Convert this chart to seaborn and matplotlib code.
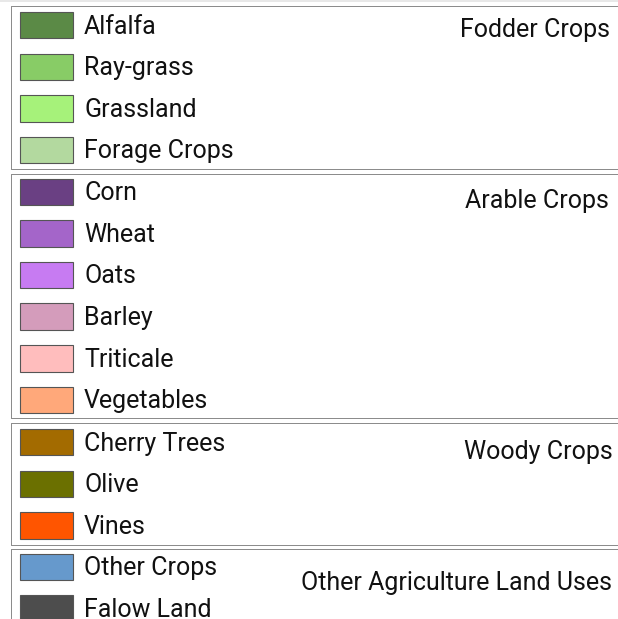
import seaborn as sns
import matplotlib.pyplot as plt
from matplotlib.patches import Patch
from matplotlib.lines import Line2D
from matplotlib.legend_handler import HandlerPatch

# legend groups (land use categories)
group_titles = ["Fodder Crops", "Arable Crops", "Woody Crops", "Other Agriculture Land Uses"]

fodder_labels = ["Alfalfa", "Ray-grass", "Grassland", "Forage Crops"]
fodder_colors = ["#5b8a46", "#88cc66", "#a6f27a", "#b3d99f"]

arable_labels = ["Corn", "Wheat", "Oats", "Barley", "Triticale", "Vegetables"]
arable_colors = ["#6a4083", "#a465c9", "#c77bf2", "#d49cbb", "#ffbdbd", "#ffa87a"]

woody_labels = ["Cherry Trees", "Olive", "Vines"]
woody_colors = ["#a36b00", "#6b7000", "#ff5500"]

other_labels = ["Other Crops", "Falow Land"]
other_colors = ["#6699cc", "#4d4d4d"]


def make_handles(labels, colors):
    return [Patch(facecolor=c, edgecolor="#555555", linewidth=0.8, label=l)
            for l, c in zip(labels, colors)]


sns.set_theme(style="white")
plt.rcParams["font.family"] = ["Roboto", "DejaVu Sans"]
plt.rcParams["text.color"] = "#111111"

W, H = 618, 619
fig = plt.figure(figsize=(W / 100, H / 100), dpi=100)

# faint rule along the top edge
fig.add_artist(Line2D([0, 1], [1 - 1 / H, 1 - 1 / H], transform=fig.transFigure,
                      color="#e8e8e8", linewidth=1.4))

groups = [(fodder_labels, fodder_colors), (arable_labels, arable_colors),
          (woody_labels, woody_colors), (other_labels, other_colors)]
box_tops = [6, 174, 423, 549]
pads = [4.3, 3.3, 4.3, 3.3]      # points
title_pos = [(610, 30), (609, 201), (613, 452), (612, 583)]

fs = 18
base_pad = 4.3
for (labels, colors), title, top, pad, (tx, ty) in zip(groups, group_titles, box_tops,
                                                        pads, title_pos):
    xpad = 2.2 + (base_pad - pad)  # keeps swatch and label at the same x
    leg = fig.legend(handles=make_handles(labels, colors), loc="upper left",
                     bbox_to_anchor=(11 / W, 1 - top / H, 700 / W, 0), mode="expand",
                     borderaxespad=0, fontsize=fs, frameon=True, fancybox=False,
                     framealpha=1, edgecolor="#8c8c8c",
                     handlelength=(38.2 + xpad) / fs,
                     handleheight=22.5 / fs, handletextpad=7.9 / fs,
                     labelspacing=10.8 / fs, borderpad=pad / fs,
                     handler_map={Patch: HandlerPatch(xpad=xpad / fs)})
    leg.get_frame().set_linewidth(0.72)
    for t in leg.get_texts():
        t.set_color("#111111")
    fig.add_artist(leg)
    fig.text(tx / W, 1 - ty / H, title, ha="right", va="center", fontsize=fs,
             color="#111111", zorder=10)

fig.savefig("out.png", dpi=100)
